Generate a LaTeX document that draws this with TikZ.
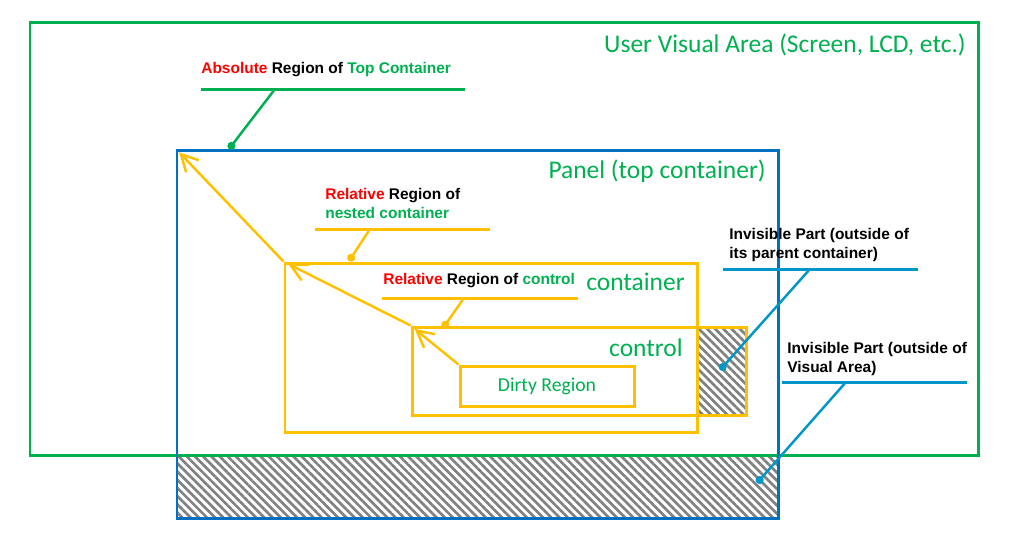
\documentclass[tikz,border=0pt]{standalone}
\usepackage{fontspec}
\setmainfont{Carlito}
\newfontfamily\arialfont{Liberation Sans}
\usetikzlibrary{fit,arrows.meta,patterns.meta}
\definecolor{areagreen}{HTML}{00B050}
\definecolor{panelblue}{HTML}{0070C0}
\definecolor{boxyellow}{HTML}{FFC000}
\definecolor{tagred}{HTML}{FF0000}
\definecolor{leadblue}{HTML}{0096C8}
\tikzset{
  region/.style={draw,line width=1.7pt,inner sep=0pt},
  tag/.style={font=\arialfont\bfseries\fontsize{8.8}{10.8}\selectfont,align=left,inner sep=0pt,anchor=base west},
  title/.style={font=\fontsize{14.5}{17}\selectfont,text=areagreen,inner sep=0pt,anchor=base east},
  hatch/.style={pattern={Lines[angle=-45,distance=3.3pt,line width=1.5pt]},pattern color=gray},
  rule/.style={line width=1.7pt},
  leader/.style={line width=1.4pt,-{Circle[length=4.5pt]}},
  offset/.style={boxyellow,line width=1.4pt,-{Straight Barb[length=9.5pt,width=10pt]},shorten >=3pt}
}

\begin{document}
\begin{tikzpicture}[x=0.02cm,y=-0.02cm]
\useasboundingbox (0,0) rectangle (1016,532);
% hidden parts
\fill[hatch] (177,457) rectangle (778,518);
\fill[hatch] (697,327) rectangle (746,415);

\node[region,areagreen,fit={(30,22) (978,455)}] (screen) {};
\node[region,panelblue,fit={(177,150) (778,518)}] (panel) {};
\node[region,boxyellow,fit={(285,263) (697,432)}] (ctr) {};
\node[region,boxyellow,fit={(412,327) (746,415)}] (ctl) {};
\node[region,boxyellow,fit={(460,366) (634,406)}] (dirty) {};

\node[title] at (966,52) {User Visual Area (Screen, LCD, etc.)};
\node[title] at (766,178) {Panel (top container)};
\node[title] at (685,290) {container};
\node[title] at (683,356) {control};
\node[font=\fontsize{11.2}{13}\selectfont,text=areagreen] (dirtytxt) at (dirty.center) {Dirty Region};

\draw[offset] (ctr.north west) -- (panel.north west);
\draw[offset] (ctl.north west) -- (ctr.north west);
\draw[offset] (dirty.north west) -- (ctl.north west);

% labels
\node[tag] (abs) at (201,73.5) {\textcolor{tagred}{Absolute} Region of \textcolor{areagreen}{Top Container}};
\coordinate (abs1) at (201,89);
\coordinate (abs2) at (465,89);
\draw[rule,areagreen] (abs1) -- (abs2);
\coordinate (absdot) at (229,149);
\draw[leader,areagreen] (275,89) -- (absdot);

\node[tag] (relctr) at (325,218) {\textcolor{tagred}{Relative} Region of\\\textcolor{areagreen}{nested container}};
\coordinate (relctr1) at (315,229);
\coordinate (relctr2) at (490,229);
\draw[rule,boxyellow] (relctr1) -- (relctr2);
\coordinate (relctrdot) at (349,261);
\draw[leader,boxyellow] (370,229) -- (relctrdot);

\node[tag] (relctl) at (383,284) {\textcolor{tagred}{Relative} Region of \textcolor{areagreen}{control}};
\coordinate (relctl1) at (382,298);
\coordinate (relctl2) at (578,298);
\draw[rule,boxyellow] (relctl1) -- (relctl2);
\coordinate (relctldot) at (443,328);
\draw[leader,boxyellow] (464,298) -- (relctldot);

\node[tag] (hidctr) at (729,258) {Invisible Part (outside of\\its parent container)};
\coordinate (hidctr1) at (723,269);
\coordinate (hidctr2) at (918,269);
\draw[rule,leadblue] (hidctr1) -- (hidctr2);
\coordinate (hidctrdot) at (720,370);
\draw[leader,leadblue] (810,269) -- (hidctrdot);

\node[tag] (hidscr) at (787,372) {Invisible Part (outside of\\Visual Area)};
\coordinate (hidscr1) at (782,382);
\coordinate (hidscr2) at (967,382);
\draw[rule,leadblue] (hidscr1) -- (hidscr2);
\coordinate (hidscrdot) at (757,483);
\draw[leader,leadblue] (846,382) -- (hidscrdot);
\end{tikzpicture}
\end{document}
